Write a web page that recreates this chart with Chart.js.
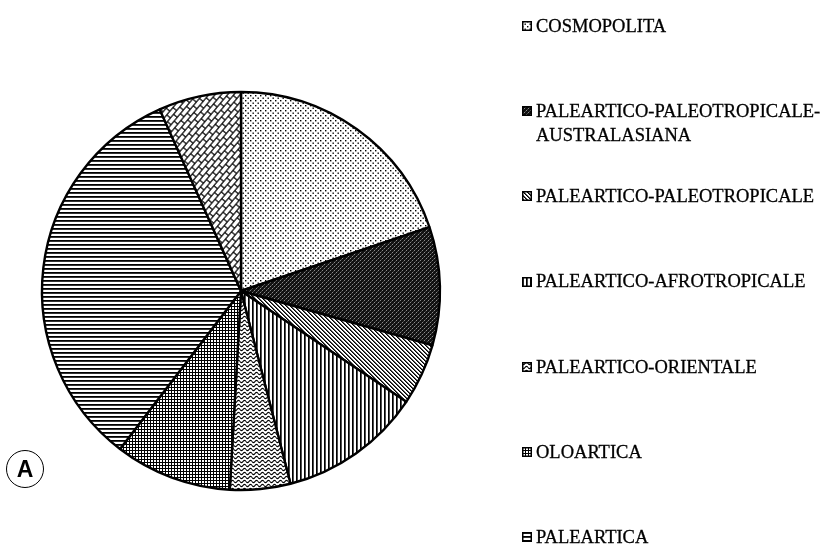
<!DOCTYPE html>
<html>
<head>
<meta charset="utf-8">
<script src="https://cdn.jsdelivr.net/npm/chart.js@4"></script>
<style>
  html, body { margin: 0; padding: 0; background: #fff; }
  #wrap { position: relative; width: 829px; height: 549px; overflow: hidden; }
  #chartBox { position: absolute; left: 0; top: 0; width: 829px; height: 549px; }
  .leg { position: absolute; left: 522px; font-family: "Liberation Serif", "Times New Roman", serif; font-size: 18.5px; color: #000; white-space: nowrap; -webkit-text-stroke: 0.3px #000; }
  .leg canvas { position: absolute; left: 0; top: 0; }
  .leg .txt { position: absolute; left: 14px; top: 0; line-height: 24px; }
  #tag { position: absolute; left: 6px; top: 450px; width: 36px; height: 36px; border: 1.2px solid #000; border-radius: 50%;
         font-family: "Liberation Sans", Arial, sans-serif; font-weight: bold; font-size: 23px; line-height: 36px; text-align: center; color: #000; }
</style>
</head>
<body>
<div id="wrap">
  <div id="chartBox"><canvas id="c"></canvas></div>
  <div id="tag">A</div>
</div>
<script>
// ---- data ----
const categories = [
  'COSMOPOLITA',
  'PALEARTICO-PALEOTROPICALE-AUSTRALASIANA',
  'PALEARTICO-PALEOTROPICALE',
  'PALEARTICO-AFROTROPICALE',
  'PALEARTICO-ORIENTALE',
  'OLOARTICA',
  'PALEARTICA',
  'ALTRO'
];
const legendLines = [
  ['COSMOPOLITA'],
  ['PALEARTICO-PALEOTROPICALE-', 'AUSTRALASIANA'],
  ['PALEARTICO-PALEOTROPICALE'],
  ['PALEARTICO-AFROTROPICALE'],
  ['PALEARTICO-ORIENTALE'],
  ['OLOARTICA'],
  ['PALEARTICA']
];
const values = [19.8, 9.6, 5.0, 11.6, 4.9, 9.5, 32.9, 6.7];
const patternKinds = ['dots', 'dark', 'diag', 'vert', 'wave', 'grid', 'horiz', 'brick'];

// ---- patterns ----
function tile(w, h, draw) {
  const c = document.createElement('canvas');
  c.width = w; c.height = h;
  const g = c.getContext('2d');
  g.fillStyle = '#fff';
  g.fillRect(0, 0, w, h);
  g.fillStyle = '#000';
  g.strokeStyle = '#000';
  draw(g, w, h);
  return c;
}
function makeTile(kind) {
  switch (kind) {
    case 'dots': return tile(5, 5, g => { g.fillRect(0, 0, 1.4, 1.4); g.fillRect(2.5, 2.5, 1.4, 1.4); });
    case 'dark': return tile(4, 4, g => { g.fillStyle = '#111'; g.fillRect(0, 0, 4, 4); g.fillStyle = '#8a8a8a'; g.fillRect(0, 0, 1, 1); g.fillRect(2, 2, 1, 1); g.fillStyle = '#444'; g.fillRect(3, 1, 1, 1); g.fillRect(1, 3, 1, 1); });
    case 'diag': return tile(4, 4, g => { for (let i = 0; i < 4; i++) { g.fillStyle = '#000'; g.fillRect(i, i, 1, 1); g.fillStyle = '#555'; g.fillRect((i + 1) % 4, i, 1, 1); } });
    case 'vert': return tile(4, 4, g => { g.fillRect(0, 0, 1.7, 4); });
    case 'horiz': return tile(4, 4, g => { g.fillRect(0, 0, 4, 1.8); });
    case 'grid': return tile(3, 3, g => { g.fillRect(0, 0, 3, 1); g.fillRect(0, 0, 1, 3); });
    case 'wave': return tile(6, 4, g => {
      g.lineWidth = 1.1;
      for (const oy of [-4, 0, 4]) {
        g.beginPath();
        for (let x = 0; x <= 6; x += 0.5) {
          const y = 1.5 + oy + Math.sin(x / 6 * 2 * Math.PI) * 1.1;
          if (x === 0) g.moveTo(x, y); else g.lineTo(x, y);
        }
        g.stroke();
      }
    });
    case 'brick': return tile(24, 12, g => {
      g.lineWidth = 1.5;
      for (const oy of [0, 6, 12]) { g.beginPath(); g.moveTo(0, oy); g.lineTo(24, oy); g.stroke(); }
      for (const x of [0, 12, 24]) { g.beginPath(); g.moveTo(x, 0); g.lineTo(x, 6); g.stroke(); }
      for (const x of [6, 18]) { g.beginPath(); g.moveTo(x, 6); g.lineTo(x, 12); g.stroke(); }
    });
  }
}

const canvas = document.getElementById('c');
const mainCtx = canvas.getContext('2d');
const tiles = patternKinds.map(makeTile);
function pat(ctx, i) {
  const p = ctx.createPattern(tiles[i], 'repeat');
  if (patternKinds[i] === 'brick' && p.setTransform) p.setTransform(new DOMMatrix().rotate(-50).scale(0.8));
  return p;
}
const patterns = tiles.map((t, i) => pat(mainCtx, i));

// ---- chart ----
new Chart(canvas, {
  type: 'pie',
  data: {
    labels: categories,
    datasets: [{
      data: values,
      backgroundColor: patterns,
      borderColor: '#000',
      borderWidth: 2.4
    }]
  },
  options: {
    responsive: true,
    maintainAspectRatio: false,
    animation: false,
    events: [],
    rotation: 0,
    radius: 199,
    layout: { padding: { left: 42, top: 92, right: 389, bottom: 59 } },
    plugins: { legend: { display: false }, tooltip: { enabled: false } }
  }
});

// ---- legend (HTML) ----
const wrap = document.getElementById('wrap');
legendLines.forEach((lines, i) => {
  const capCenter = 26 + 85.2 * i;
  const d = document.createElement('div');
  d.className = 'leg';
  d.style.top = (capCenter - 5) + 'px';
  const sw = document.createElement('canvas');
  sw.width = 10; sw.height = 10;
  const sg = sw.getContext('2d');
  sg.fillStyle = pat(sg, i);
  sg.fillRect(0, 0, 10, 10);
  sg.strokeStyle = '#000'; sg.lineWidth = 1.5;
  sg.strokeRect(0.75, 0.75, 8.5, 8.5);
  d.appendChild(sw);
  const t = document.createElement('div');
  t.className = 'txt';
  t.innerHTML = lines.join('<br>');
  t.style.top = '-7.3px';
  d.appendChild(t);
  wrap.appendChild(d);
});
</script>
</body>
</html>
